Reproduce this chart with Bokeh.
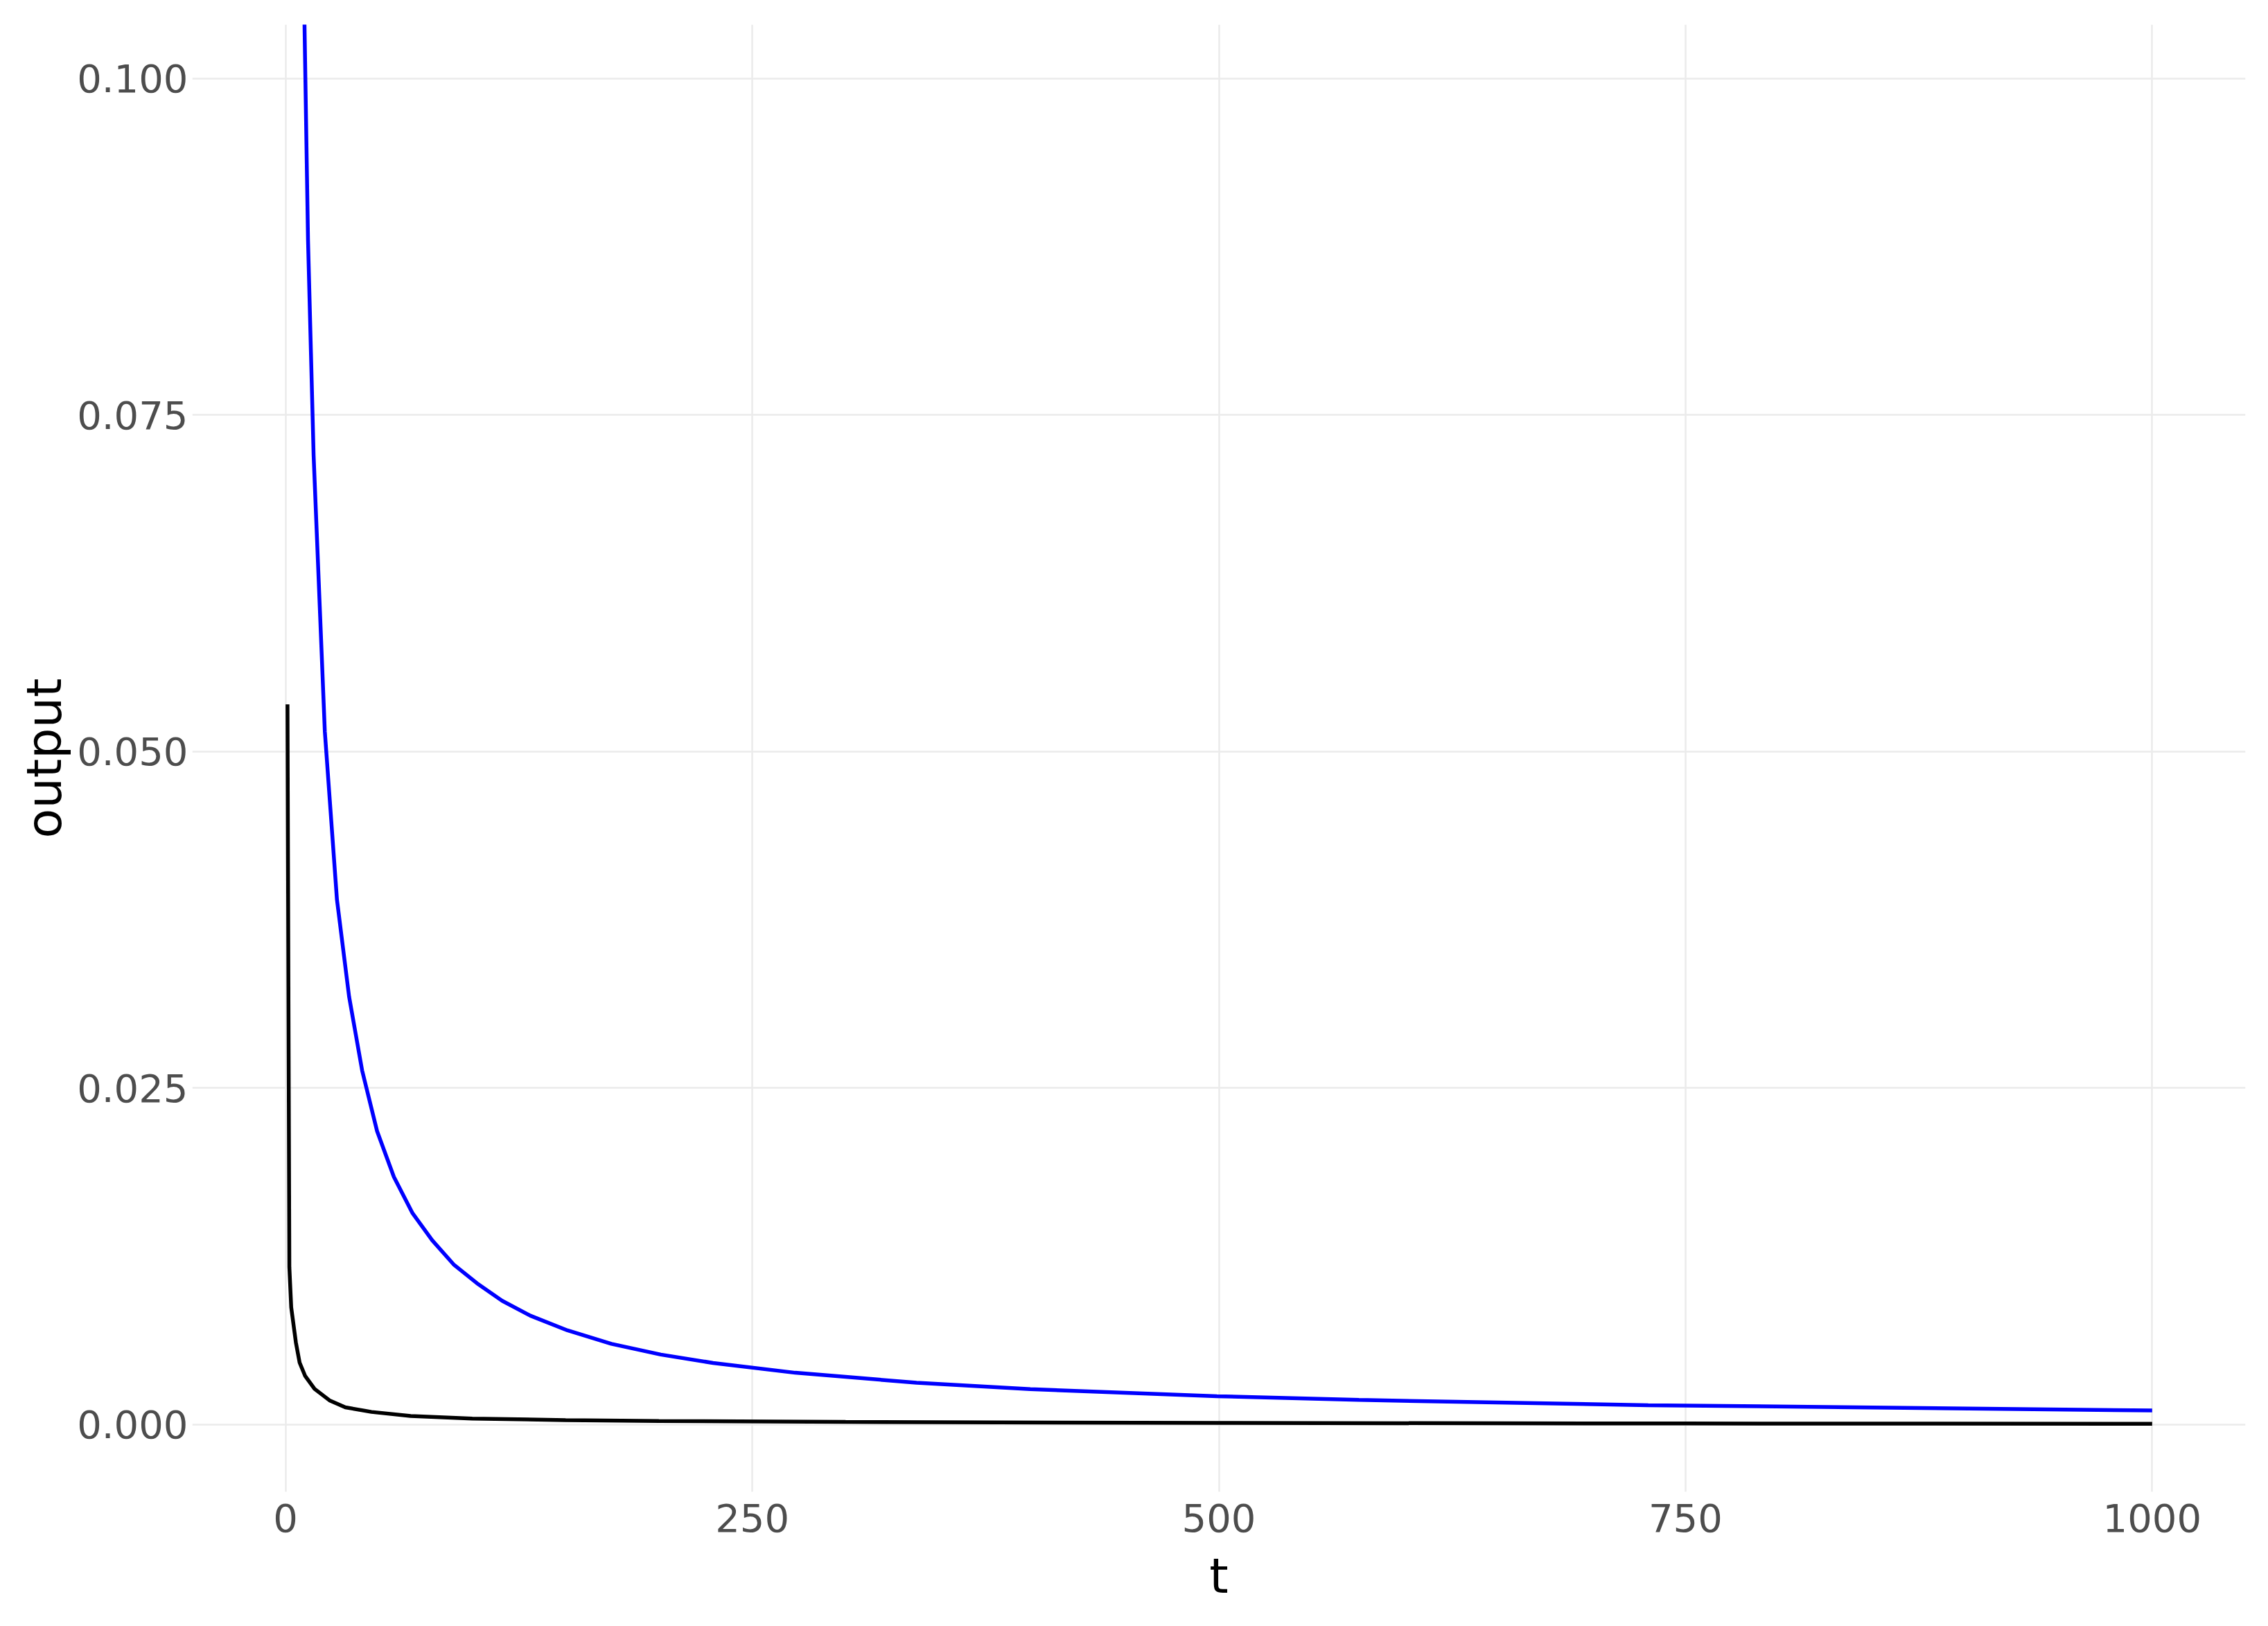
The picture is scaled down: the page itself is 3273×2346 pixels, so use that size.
from bokeh.plotting import figure
from bokeh.models import Range1d, FixedTicker, PrintfTickFormatter
from bokeh.embed import file_html
from bokeh.resources import INLINE

# Data
t_blue = [5, 8, 10, 12, 15, 21, 27.5, 34, 41, 49, 58, 68, 78.5, 90, 102.5, 116,
          131, 151, 174.5, 201, 229, 273, 338, 399, 499, 575, 730, 1000]
out_blue = [0.21, 0.132, 0.105, 0.088, 0.072, 0.0515, 0.039, 0.0318, 0.0263,
            0.0218, 0.0184, 0.0157, 0.0137, 0.0119, 0.0105, 0.0092, 0.0081,
            0.0070, 0.0060, 0.0052, 0.00458, 0.00385, 0.00311, 0.00263,
            0.00211, 0.00183, 0.00144, 0.00105]

t_black = [1, 2, 3, 5.5, 7.5, 10.5, 15.5, 23.5, 32, 46, 67, 100, 150, 200,
           300, 500, 750, 1000]
out_black = [0.0535, 0.0117, 0.0087, 0.0061, 0.0046, 0.0036, 0.00265, 0.0018,
             0.00128, 0.00094, 0.00064, 0.00045, 0.00033, 0.00027, 0.0002,
             0.00012, 0.00008, 0.00006]

x_ticks = [0, 250, 500, 750, 1000]
y_ticks = [0.0, 0.025, 0.05, 0.075, 0.1]
x_title = "t"
y_title = "output"

p = figure(width=3257, height=2330, output_backend="svg", toolbar_location=None,
           x_range=Range1d(-50, 1050), y_range=Range1d(-0.005, 0.104),
           min_border_left=277, min_border_right=17, min_border_top=35,
           min_border_bottom=178)
p.outline_line_color = None
p.background_fill_color = "white"
p.border_fill_color = "white"

p.line(t_blue, out_blue, line_color="#0000FF", line_width=5.5)
p.line(t_black, out_black, line_color="#000000", line_width=5.5)

p.xaxis.ticker = FixedTicker(ticks=x_ticks)
p.yaxis.ticker = FixedTicker(ticks=y_ticks)
p.yaxis.formatter = PrintfTickFormatter(format="%.3f")
p.xaxis.axis_label = x_title
p.yaxis.axis_label = y_title

for ax in (p.xaxis, p.yaxis):
    ax.axis_line_color = None
    ax.major_tick_line_color = None
    ax.minor_tick_line_color = None
    ax.major_label_text_font = "DejaVu Sans"
    ax.major_label_text_font_size = "56px"
    ax.major_label_text_color = "#4D4D4D"
    ax.axis_label_text_font = "DejaVu Sans"
    ax.axis_label_text_font_size = "70px"
    ax.axis_label_text_font_style = "normal"
    ax.axis_label_text_color = "#000000"

p.yaxis.major_label_standoff = 0
p.yaxis.axis_label_standoff = 3
p.xaxis.major_label_standoff = 11
p.xaxis.axis_label_standoff = 20

for g in (p.xgrid, p.ygrid):
    g.grid_line_color = "#EBEBEB"
    g.grid_line_width = 2.5

open("out.html", "w").write(file_html(p, INLINE))
